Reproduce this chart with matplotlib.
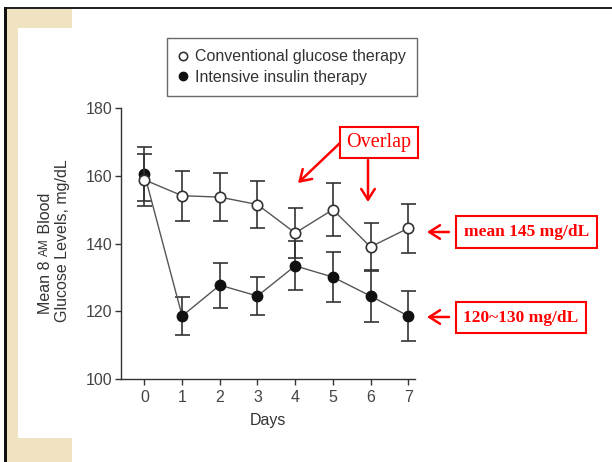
import matplotlib
matplotlib.use("Agg")
import matplotlib.pyplot as plt
from matplotlib.patches import Rectangle, FancyArrowPatch
from matplotlib.lines import Line2D

# data
days = [0, 1, 2, 3, 4, 5, 6, 7]
conventional_mean = [158.8, 154.1, 153.7, 151.5, 143.1, 150.0, 139.0, 144.5]
conventional_err = [7.6, 7.4, 7.2, 7.0, 7.3, 7.9, 7.0, 7.3]
intensive_mean = [160.5, 118.6, 127.7, 124.5, 133.4, 130.1, 124.5, 118.6]
intensive_err = [8.0, 5.7, 6.6, 5.6, 7.2, 7.3, 7.8, 7.4]
y_ticks = [100, 120, 140, 160, 180]
legend_labels = ["Conventional glucose therapy", "Intensive insulin therapy"]

W, H = 612, 462
FONT = "Liberation Sans"
SERIF = "Liberation Serif"
RED = "#ff0000"


def fx(x):
    return x / W


def fy(y):
    return 1 - y / H


def px_rect(fig, x0, y0, x1, y1, color):
    fig.patches.append(Rectangle((fx(x0), fy(y1)), fx(x1) - fx(x0), fy(y0) - fy(y1),
                                 transform=fig.transFigure, facecolor=color,
                                 edgecolor="none", zorder=0))


fig = plt.figure(figsize=(W / 100, H / 100), dpi=100)
fig.patch.set_facecolor("white")

# slide decoration (beige corner + black frame)
beige = "#efe3c2"
px_rect(fig, 7, 9, 72, 28, beige)
px_rect(fig, 7, 9, 18, 462, beige)
px_rect(fig, 7, 438, 72, 462, beige)
px_rect(fig, 4, 7, 612, 9, "#222222")
px_rect(fig, 4, 7, 7, 462, "#111111")

# axes
ax = fig.add_axes([fx(120.7), fy(379), fx(415) - fx(120.7), fy(108) - fy(379)])
ax.set_xlim(-0.63, 7.18)
ax.set_ylim(100, 180)
for side in ["top", "right"]:
    ax.spines[side].set_visible(False)
for side in ["left", "bottom"]:
    ax.spines[side].set_color("#333333")
    ax.spines[side].set_linewidth(1.0)

ax.set_xticks(days)
ax.set_yticks(y_ticks)
ax.tick_params(axis="both", direction="out", length=4, width=1.0, color="#333333",
               labelcolor="#444444", labelsize=11.5)
ax.tick_params(axis="x", pad=4)
ax.tick_params(axis="y", pad=2)
for lab in ax.get_xticklabels() + ax.get_yticklabels():
    lab.set_fontfamily(FONT)

ax.errorbar(days, intensive_mean, yerr=intensive_err, fmt="o-", color="#555555",
            lw=1.0, ecolor="#333333", elinewidth=1.2, capsize=5.4, capthick=1.2,
            markersize=7.5, markerfacecolor="#111111", markeredgecolor="#111111",
            zorder=3, clip_on=False)
ax.errorbar(days, conventional_mean, yerr=conventional_err, fmt="o-", color="#555555",
            lw=1.0, ecolor="#333333", elinewidth=1.2, capsize=5.4, capthick=1.2,
            markersize=7.5, markerfacecolor="white", markeredgecolor="#333333",
            markeredgewidth=1.2, zorder=4, clip_on=False)

ax.set_xlabel("Days", fontfamily=FONT, fontsize=11.5, color="#333333", labelpad=6)

# y label with small-caps "AM", built from pieces
renderer = fig.canvas.get_renderer()
y_pos = 314
for piece, size in [("Mean 8 ", 11.5), ("AM", 8.5), (" Blood", 11.5)]:
    t = fig.text(fx(45), fy(y_pos), piece, rotation=90, fontfamily=FONT, fontsize=size,
                 color="#333333", ha="left", va="center", rotation_mode="anchor")
    bb = t.get_window_extent(renderer)
    y_pos -= bb.height
fig.text(fx(62), fy(241), "Glucose Levels, mg/dL", rotation=90, fontfamily=FONT,
         fontsize=11.5, color="#333333", ha="center", va="center")

# legend
handles = [
    Line2D([], [], ls="none", marker="o", markersize=6, markerfacecolor="white",
           markeredgecolor="#333333", markeredgewidth=1.2),
    Line2D([], [], ls="none", marker="o", markersize=6, markerfacecolor="#111111",
           markeredgecolor="#111111"),
]
leg = fig.legend(handles, legend_labels, loc="center", bbox_to_anchor=(fx(292), fy(67)),
                 frameon=True, fancybox=False, handlelength=0.6, handletextpad=0.5,
                 labelspacing=0.35, borderpad=0.7, prop={"family": FONT, "size": 11.5})
leg.get_frame().set_edgecolor("#444444")
leg.get_frame().set_linewidth(1.0)
for txt in leg.get_texts():
    txt.set_color("#333333")

# red annotations
fig.text(fx(379), fy(142.5), "Overlap", fontfamily=SERIF, fontsize=14.5, color=RED,
         ha="center", va="center",
         bbox=dict(boxstyle="square,pad=0.3", facecolor="white", edgecolor=RED, linewidth=1.5))
for (cx, cy), label in [((526.5, 232), "mean 145 mg/dL"), ((521, 317.5), "120~130 mg/dL")]:
    fig.text(fx(cx), fy(cy), label, fontfamily=SERIF, fontsize=12.5,
             fontweight="bold", color=RED, ha="center", va="center",
             bbox=dict(boxstyle="square,pad=0.45", facecolor="white", edgecolor=RED,
                       linewidth=1.5))

for (x0, y0), (x1, y1) in [((340, 143), (298, 183)), ((368, 160), (368, 202)),
                           ((449, 232), (427, 232)), ((449, 317), (427, 317))]:
    fig.add_artist(FancyArrowPatch(
        (fx(x0), fy(y0)), (fx(x1), fy(y1)), transform=fig.transFigure,
        arrowstyle="->,head_length=0.55,head_width=0.35", mutation_scale=14,
        color=RED, lw=1.8, shrinkA=0, shrinkB=0))

fig.savefig("out.png", dpi=100)
